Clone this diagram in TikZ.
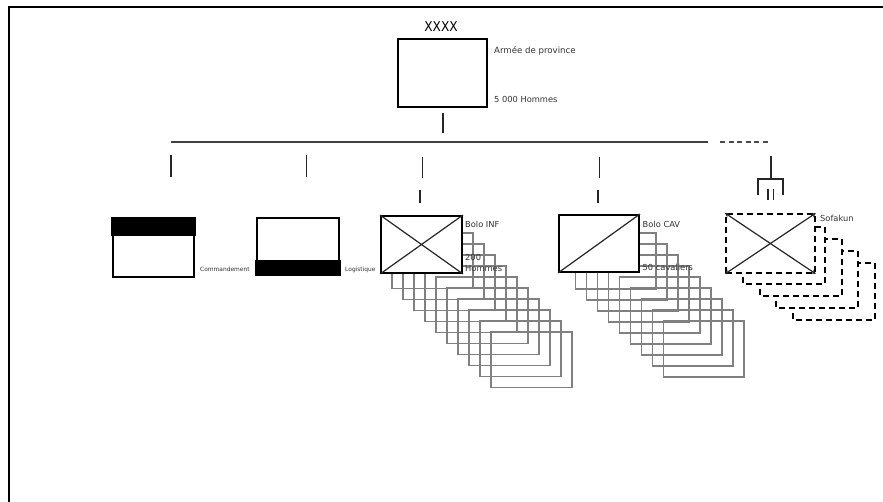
\documentclass[tikz,border=0pt]{standalone}
\usepackage{fontspec}
\setmainfont{DejaVu Sans}
\usetikzlibrary{arrows.meta,calc}
\begin{document}
\begin{tikzpicture}[x=1pt,y=-1pt,
  unitbox/.style={draw=black,line width=1.9pt,fill=white,inner sep=0pt,rectangle},
  ghost/.style={draw=black!50,line width=1.3pt},
  dashbox/.style={draw=black,line width=1.9pt,fill=white,dash pattern=on 6pt off 4pt},
  stub/.style={draw=black!85,line width=1.4pt},
  diag/.style={draw=black!85,line width=1.2pt},
  lbl/.style={inner sep=0pt,anchor=west,font=\fontsize{8.3}{9}\selectfont,text=black!80},
  tinylbl/.style={inner sep=0pt,anchor=west,font=\fontsize{5.9}{7}\selectfont,text=black!80}]
\useasboundingbox (0,0) rectangle (883,502);
\fill[white] (0,0) rectangle (883,502);
\draw[line width=2pt] (8.5,502) -- (8.5,7) -- (883,7);

% top unit
\node[inner sep=0pt,font=\fontsize{13.5}{15}\selectfont,xscale=0.9] (xxxx) at (441,27) {XXXX};
\node[unitbox,minimum width=89,minimum height=68] (army) at (442.5,73) {};
\node[lbl,font=\fontsize{8.6}{10}\selectfont] (armylbl) at (494,50.5) {Armée de province};
\node[lbl] (armymen) at (494,99.5) {5 000 Hommes};

% connectors
\coordinate (a1) at (443,113); \coordinate (a2) at (443,133);
\draw[stub] (a1) -- (a2);
\coordinate (bl) at (171,142); \coordinate (br) at (708,142);
\draw[stub,draw=black!75,line width=1.6pt] (bl) -- (br);
\coordinate (dl) at (720,142); \coordinate (dr) at (768,142);
\draw[stub,draw=black!70,dash pattern=on 5pt off 3.5pt] (dl) -- (dr);

\coordinate (s1a) at (171,155); \coordinate (s1b) at (171,177);
\coordinate (s2a) at (306.5,155); \coordinate (s2b) at (306.5,177);
\coordinate (s3a) at (422.5,157); \coordinate (s3b) at (422.5,178);
\coordinate (s3c) at (420,190); \coordinate (s3d) at (420,203);
\coordinate (s4a) at (599.5,157); \coordinate (s4b) at (599.5,178);
\coordinate (s4c) at (598,190); \coordinate (s4d) at (598,203);
\coordinate (s5a) at (771,156); \coordinate (s5b) at (771,179);
\draw[stub] (s1a) -- (s1b);
\draw[stub] (s2a) -- (s2b);
\draw[stub] (s3a) -- (s3b);
\draw[stub] (s3c) -- (s3d);
\draw[stub] (s4a) -- (s4b);
\draw[stub] (s4c) -- (s4d);
\draw[stub] (s5a) -- (s5b);
% HQ bracket
\coordinate (hl) at (758,195); \coordinate (hr) at (783,195);
\draw[stub] (hl) -- (758,179) -- (783,179) -- (hr);
\draw[stub] (768,189) -- (768,200);
\draw[stub] (773.5,189) -- (773.5,200);

% Commandement
\node[unitbox,minimum width=81,minimum height=58] (cmd) at (153.5,248) {};
\fill[black] ($(cmd.north west)+(-0.9,-0.9)$) rectangle ($(cmd.north east)+(0.9,18)$);
\node[tinylbl] (cmdlbl) at (200,269.5) {Commandement};

% Logistique
\node[unitbox,minimum width=82,minimum height=56] (log) at (298,246) {};
\fill[black] ($(log.south west)+(-0.9,0.9)$) rectangle ($(log.south east)+(0.9,-15)$);
\node[tinylbl] (loglbl) at (345,269.5) {Logistique};

% Bolo INF
\foreach \i in {0,...,9}{
  \draw[ghost] (392+11*\i,233+11*\i) rectangle (473+11*\i,288.5+11*\i);
}
\node[unitbox,minimum width=81,minimum height=57] (inf) at (421.5,244.5) {};
\draw[diag] (inf.north west) -- (inf.south east);
\draw[diag] (inf.north east) -- (inf.south west);
\node[lbl] (inflbl) at (465,224) {Bolo INF};
\node[lbl] (infm1) at (465,257.5) {200};
\node[lbl] (infm2) at (465,268.5) {Hommes};

% Bolo CAV
\foreach \i in {0,...,8}{
  \draw[ghost] (575.7+11*\i,233+11*\i) rectangle (656+11*\i,289+11*\i);
}
\node[unitbox,minimum width=80,minimum height=57] (cav) at (599,243.5) {};
\draw[diag] (cav.south west) -- (cav.north east);
\node[lbl] (cavlbl) at (642.5,224) {Bolo CAV};
\node[lbl] (cavm) at (642.5,267) {50 cavaliers};

% Sofakun
\foreach \i in {3,2,1,0}{
  \draw[dashbox] (743+16.7*\i,227+12*\i) rectangle (825+16.7*\i,284+12*\i);
}
\node[unitbox,dash pattern=on 6pt off 4pt,minimum width=89,minimum height=59] (sofa) at (770.4,243.5) {};
\draw[diag,{Stealth[length=4.5pt,width=4.5pt]}-{Stealth[length=4.5pt,width=4.5pt]}] (sofa.north west) -- (sofa.south east);
\draw[diag,{Stealth[length=4.5pt,width=4.5pt]}-{Stealth[length=4.5pt,width=4.5pt]}] (sofa.north east) -- (sofa.south west);
\node[lbl] (sofalbl) at (820,218.5) {Sofakun};
\end{tikzpicture}
\end{document}
